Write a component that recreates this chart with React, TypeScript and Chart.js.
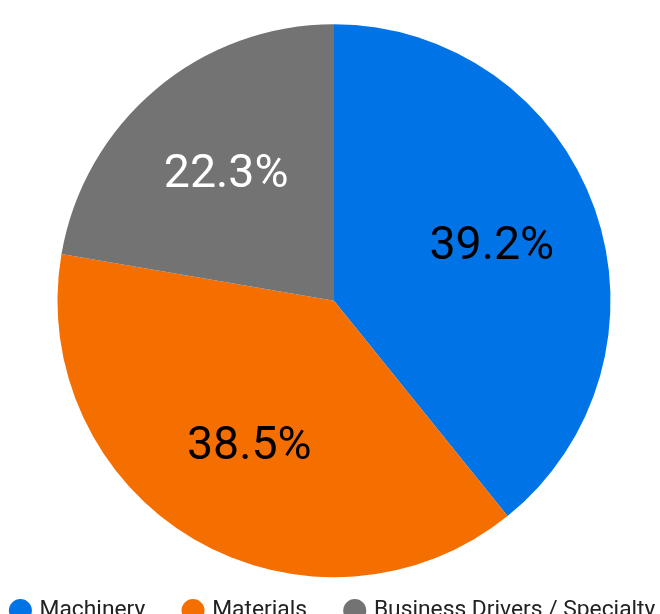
import React, { useEffect, useRef } from "react";
import { Chart, registerables } from "chart.js";

Chart.register(...registerables);

const categories = ["Machinery", "Materials", "Business Drivers / Specialty"];
const values = [39.2, 38.5, 22.3];
const colors = ["#0073E6", "#F56E00", "#737373"];
const labelColors = ["#000000", "#000000", "#FFFFFF"];

const labelPlugin = {
  id: "sliceLabels",
  afterDatasetsDraw(chart: any) {
    const meta = chart.getDatasetMeta(0);
    const ctx = chart.ctx;
    ctx.save();
    ctx.font = "46.5px Roboto";
    ctx.textAlign = "center";
    ctx.textBaseline = "middle";
    meta.data.forEach((arc: any, i: number) => {
      const { x, y, startAngle, endAngle, outerRadius } = arc.getProps(
        ["x", "y", "startAngle", "endAngle", "outerRadius"],
        true
      );
      const mid = (startAngle + endAngle) / 2;
      const r = outerRadius * 0.605;
      ctx.fillStyle = labelColors[i];
      ctx.fillText(
        values[i].toFixed(1) + "%",
        x + Math.cos(mid) * r,
        y + Math.sin(mid) * r + 2
      );
    });
    ctx.restore();
  },
};

export default function App() {
  const ref = useRef<HTMLCanvasElement | null>(null);
  useEffect(() => {
    if (!ref.current) return;
    const chart = new Chart(ref.current, {
      type: "pie",
      data: {
        labels: categories,
        datasets: [
          {
            data: values,
            backgroundColor: colors,
            borderWidth: 0,
            radius: 276.5,
            clip: false,
          } as any,
        ],
      },
      options: {
        animation: false,
        responsive: false,
        maintainAspectRatio: false,
        layout: { padding: { top: 42.4, left: 0, right: 0, bottom: 0 } },
        plugins: {
          tooltip: { enabled: false },
          legend: {
            position: "bottom",
            labels: {
              usePointStyle: true,
              pointStyle: "circle",
              boxWidth: 15.5,
              boxHeight: 16.3,
              padding: 40,
              color: "#222222",
              font: { family: "Roboto", size: 22.8 },
            },
          },
        },
      },
      plugins: [labelPlugin],
    });
    return () => chart.destroy();
  }, []);
  return (
    <div style={{ position: "absolute", left: -46, top: 0 }}>
      <canvas ref={ref} width={760} height={632} style={{ width: 760, height: 632 }} />
    </div>
  );
}
